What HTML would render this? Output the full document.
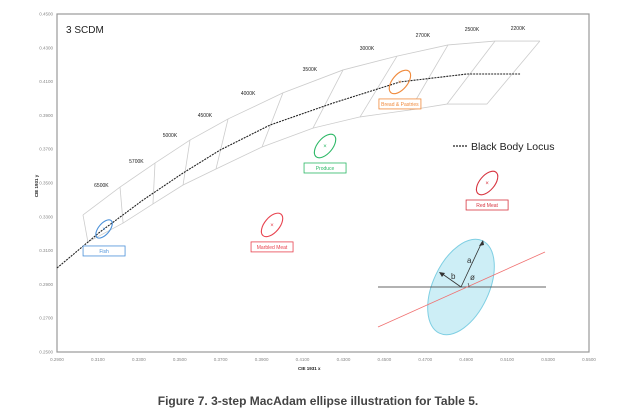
<!DOCTYPE html>
<html><head><meta charset="utf-8"><style>
body{margin:0;background:#fff;width:635px;height:415px;overflow:hidden;font-family:"Liberation Sans",sans-serif}
svg{position:absolute;left:0;top:0}
</style></head><body>
<svg id="chart" width="635" height="415" viewBox="0 0 635 415" xmlns="http://www.w3.org/2000/svg">
<rect x="57" y="14" width="532" height="338" fill="#fff" stroke="#999" stroke-width="1.2"/>
<text x="66" y="33" font-size="10" fill="#222">3 SCDM</text>
<text x="298" y="370" font-size="4.5" font-weight="bold" fill="#222">CIE 1931 x</text>
<text x="38" y="186" font-size="4.5" font-weight="bold" fill="#222" transform="rotate(-90 38 186)" text-anchor="middle">CIE 1931 y</text>
<g id="ticks"></g><g id="grid"></g><g id="marks"></g>
<g>
<line x1="453" y1="146" x2="467" y2="146" stroke="#222" stroke-width="1.2" stroke-dasharray="2,1"/>
<text x="471" y="150" font-size="10.5" fill="#222">Black Body Locus</text>
</g>
<g>
<ellipse cx="461" cy="287" rx="28" ry="51" transform="rotate(25 461 287)" fill="#cdeef6" stroke="#7fcfe3" stroke-width="1"/>
<line x1="378" y1="287" x2="546" y2="287" stroke="#333" stroke-width="0.8"/>
<line x1="378" y1="327" x2="545" y2="252" stroke="#f07070" stroke-width="0.8"/>
<line x1="461" y1="287" x2="482" y2="242" stroke="#333" stroke-width="0.8"/>
<polygon points="483,240 479,246 484,245" fill="#333"/>
<line x1="461" y1="287" x2="441" y2="273" stroke="#333" stroke-width="0.8"/>
<polygon points="439,272 445,273 442,277" fill="#333"/>
<path d="M469 287 A8 8 0 0 0 468 283" fill="none" stroke="#333" stroke-width="0.6"/>
<text x="467" y="263" font-size="8" fill="#333">a</text>
<text x="451" y="279" font-size="8" fill="#333">b</text>
<text x="470" y="280" font-size="8" fill="#333">ø</text>
</g>
<text x="318" y="405" font-size="12" font-weight="bold" fill="#444" text-anchor="middle">Figure 7. 3-step MacAdam ellipse illustration for Table 5.</text>
</svg>
<script>
const xTicks=[0.29,0.31,0.33,0.35,0.37,0.39,0.41,0.43,0.45,0.47,0.49,0.51,0.53,0.55];
const yTicks=[0.25,0.27,0.29,0.31,0.33,0.35,0.37,0.39,0.41,0.43,0.45];
const locusX=[0.2900,0.3110,0.3320,0.3516,0.3697,0.3941,0.4249,0.4576,0.4904,0.5163];
const locusY=[0.2997,0.3210,0.3399,0.3559,0.3695,0.3843,0.3973,0.4098,0.4145,0.4145];
const upperX=[0.3027,0.3208,0.3379,0.3550,0.3736,0.4004,0.4298,0.4562,0.4811,0.5041,0.5260];
const upperY=[0.3311,0.3476,0.3618,0.3754,0.3879,0.4033,0.4169,0.4251,0.4317,0.4340,0.4340];
const lowerX=[0.3051,0.3223,0.3369,0.3516,0.3677,0.3902,0.4151,0.4381,0.4625,0.4806,0.5001];
const lowerY=[0.3151,0.3263,0.3376,0.3488,0.3583,0.3713,0.3825,0.3891,0.3932,0.3967,0.3967];
const cctLabels=["6500K","5700K","5000K","4500K","4000K","3500K","3000K","2700K","2500K","2200K"];
const cctX=[0.3117,0.3288,0.3452,0.3623,0.3834,0.4136,0.4415,0.4688,0.4928,0.5153];
const cctY=[0.3476,0.3618,0.3772,0.3890,0.4020,0.4162,0.4287,0.4364,0.4399,0.4405];
const foodNames=["Fish","Marbled Meat","Produce","Bread & Pastries","Red Meat"];
const foodX=[0.3130,0.3951,0.4210,0.4576,0.5002];
const foodY=[0.3228,0.3252,0.3719,0.4098,0.3500];
const colors=["#4a90d9","#e8434f","#2cb866","#f08a3c","#d7343f"];
const X=v=>57+(v-0.29)/0.26*532, Y=v=>352-(v-0.25)/0.2*338;
const NS="http://www.w3.org/2000/svg";
function mk(tag,attrs,parent){const e=document.createElementNS(NS,tag);for(const k in attrs)e.setAttribute(k,attrs[k]);document.getElementById(parent).appendChild(e);return e;}
xTicks.forEach(v=>{const t=mk('text',{x:X(v),y:361,'font-size':4.5,fill:'#888','text-anchor':'middle'},'ticks');t.textContent=v.toFixed(4);

});
yTicks.forEach(v=>{const t=mk('text',{x:53,y:Y(v)+1.5,'font-size':4.5,fill:'#888','text-anchor':'end'},'ticks');t.textContent=v.toFixed(4);

});
const pl=(xs,ys)=>xs.map((x,i)=>X(x)+','+Y(ys[i])).join(' ');
let u=mk('polyline',{points:pl(upperX,upperY),fill:'none',stroke:'#ccc','stroke-width':0.8},'grid');


let l=mk('polyline',{points:pl(lowerX,lowerY),fill:'none',stroke:'#ccc','stroke-width':0.8},'grid');


upperX.forEach((x,i)=>{const e=mk('line',{x1:X(x),y1:Y(upperY[i]),x2:X(lowerX[i]),y2:Y(lowerY[i]),stroke:'#ccc','stroke-width':0.8},'grid');

});
cctLabels.forEach((s,i)=>{const t=mk('text',{x:X(cctX[i]),y:Y(cctY[i]),'font-size':5,fill:'#222','text-anchor':'middle'},'grid');t.textContent=s;

});
const loc=mk('polyline',{points:pl(locusX,locusY),fill:'none',stroke:'#222','stroke-width':1.1,'stroke-dasharray':'2,1'},'marks');


foodNames.forEach((n,i)=>{const cx=X(foodX[i]),cy=Y(foodY[i]),c=colors[i];
const e=mk('ellipse',{cx:cx,cy:cy,rx:i==0?11:14,ry:i==0?5.5:7.5,transform:`rotate(-50 ${cx} ${cy})`,fill:'none',stroke:c,'stroke-width':1.1},'marks');


const m=mk('text',{x:cx,y:cy+2,'font-size':6,fill:c,'text-anchor':'middle'},'marks');m.textContent='×';


const r=mk('rect',{x:cx-21,y:cy+17,width:42,height:10,fill:'#fff',stroke:c,'stroke-width':0.8},'marks');


const t=mk('text',{x:cx,y:cy+24,'font-size':5,fill:c,'text-anchor':'middle'},'marks');t.textContent=n;

});
</script>
</body></html>
